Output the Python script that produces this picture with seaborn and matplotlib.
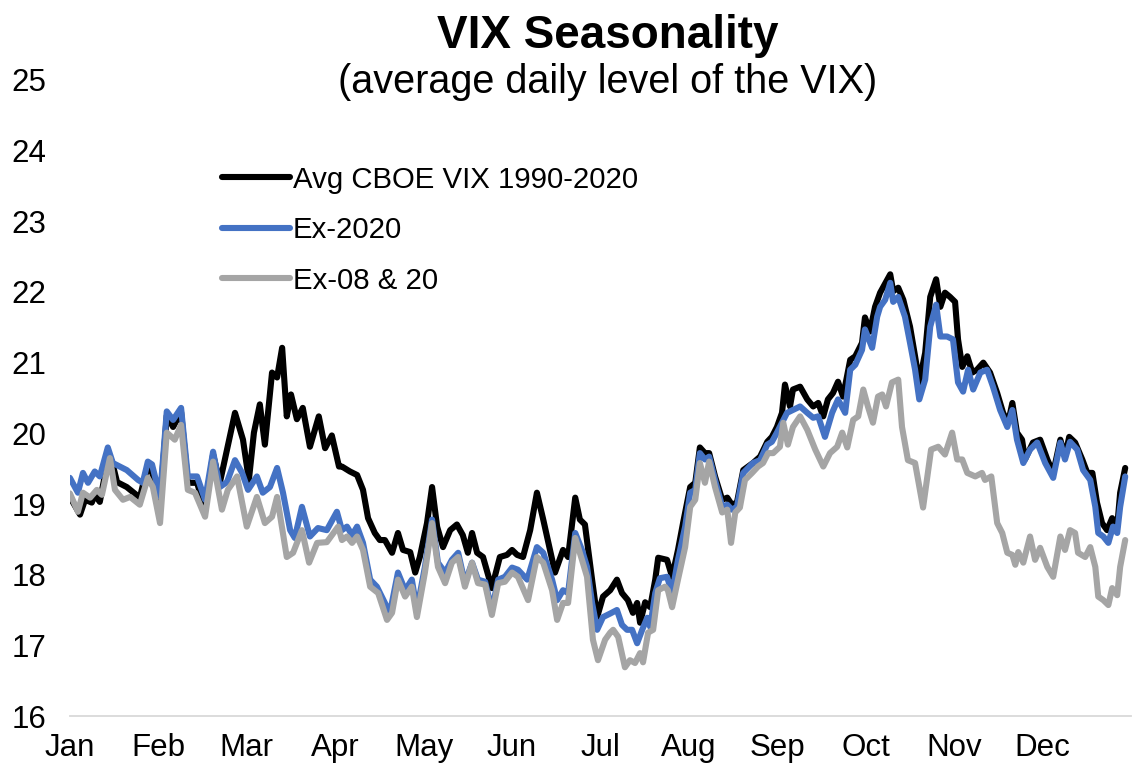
import matplotlib
matplotlib.use('Agg')
import pandas as pd
import seaborn as sns
import matplotlib.pyplot as plt

# VIX seasonality (trading day of year, level)

months = ['Jan', 'Feb', 'Mar', 'Apr', 'May', 'Jun',
          'Jul', 'Aug', 'Sep', 'Oct', 'Nov', 'Dec']

avg_days = [0, 2.4, 3.6, 5.2, 5.9, 7.1, 8.8, 10.0, 11.2, 13.5, 16.6, 18.3,
            19.5, 21.4, 23.0, 24.5, 26.4, 28.0, 30.2, 32.1, 34.0, 35.6, 39.2,
            41.1, 42.5, 43.7, 45.1, 46.3, 48.0, 49.2, 50.4, 51.5, 52.5, 53.9,
            55.3, 57.0, 59.1, 60.6, 62.2, 63.9,
            64.6, 66.5, 68.2, 69.6, 70.8, 72.4, 73.6, 74.8, 76.5, 77.9, 79.1,
            80.8, 82.0, 83.1, 84.8, 86.0, 87.2, 88.6, 90.3, 91.9, 93.3, 94.5,
            95.5, 96.7, 98.1, 100.2, 102.1, 103.8, 105.0, 106.2, 107.6, 109.3,
            110.9, 112.4, 114.0, 115.2, 117.1, 118.3, 120.0, 121.1, 122.3,
            124.0, 125.2, 126.6, 128.3,
            129.9, 131.1, 132.5, 133.7, 134.7, 135.4, 136.6, 137.8, 139.0,
            139.7, 141.8, 143.0, 144.4, 145.6, 147.3, 148.5, 149.6, 150.8,
            151.8, 153.2, 154.9, 156.1, 157.2, 158.4, 159.9, 162.2, 163.9,
            165.6, 166.7, 167.9, 169.1, 169.8, 171.0, 171.7, 173.4, 175.1,
            176.5, 177.7, 178.9, 180.0, 181.2, 182.4, 183.6, 185.3, 186.5,
            188.1, 188.8, 190.0, 191.2, 192.4,
            194.8, 195.5, 196.7, 197.9, 199.5, 200.7, 201.7, 203.1, 204.3,
            205.7, 206.7, 207.8, 209.0, 210.2, 210.9, 211.9, 213.1, 214.3,
            215.4, 216.9, 218.5, 220.2, 221.6, 222.8, 223.8, 224.9, 226.1,
            226.8, 228.7, 230.4, 232.1, 233.5, 235.2, 236.3, 237.3, 238.7,
            240.4, 241.6, 242.8, 243.9, 245.1, 246.3, 247.5, 248.7, 249.4,
            250.6]
avg_vix = [19.10, 18.85, 19.06, 19.02, 19.13, 19.03, 19.56, 19.60, 19.31,
           19.24, 19.09, 19.50, 19.45, 19.00, 20.25, 20.09, 20.30, 19.30,
           19.30, 18.92, 19.70, 19.30, 20.29, 19.91, 19.34, 20.01, 20.41,
           19.84, 20.86, 20.79, 21.21, 20.24, 20.55, 20.20, 20.36, 19.81,
           20.24, 19.79, 19.97, 19.53,
           19.53, 19.46, 19.41, 19.20, 18.80, 18.59, 18.49, 18.49, 18.31,
           18.59, 18.35, 18.32, 18.03, 18.25, 18.73, 19.24, 18.68, 18.39,
           18.63, 18.71, 18.56, 18.31, 18.59, 18.31, 18.25, 17.81, 18.25,
           18.28, 18.35, 18.28, 18.25, 18.63, 19.16, 18.78, 18.35, 18.03,
           18.35, 18.25, 19.09, 18.78, 18.71, 17.93, 17.40, 17.69, 17.78,
           17.93, 17.74, 17.64, 17.46, 17.60, 17.32, 17.61, 17.54, 17.93,
           18.24, 18.21, 17.97, 18.35, 18.73, 19.24, 19.30, 19.80, 19.72,
           19.72, 19.39, 19.06, 19.09, 18.99, 19.02, 19.48, 19.58, 19.67,
           19.88, 19.95, 20.09, 20.29, 20.69, 20.38, 20.62, 20.66, 20.48,
           20.38, 20.43, 20.24, 20.48, 20.57, 20.73, 20.52, 21.04, 21.09,
           21.28, 21.64, 21.44, 21.79, 21.99,
           22.25, 22.01, 22.06, 21.89, 21.51, 21.09, 20.72, 21.14, 21.93,
           22.18, 21.79, 21.99, 21.93, 21.86, 21.33, 20.94, 21.09, 20.86,
           20.90, 21.00, 20.86, 20.57, 20.29, 20.15, 20.43, 20.01, 19.91,
           19.63, 19.87, 19.91, 19.63, 19.44, 19.91, 19.67, 19.95, 19.87,
           19.63, 19.44, 19.44, 19.02, 18.73, 18.63, 18.80, 18.68, 19.16,
           19.51]

ex20_days = [0, 1.9, 3.1, 4.3, 5.9, 7.1, 9.0, 10.2, 13.5, 16.2, 17.3, 18.5,
             19.5, 21.4, 23.0, 24.5, 26.4, 28.0, 30.2, 32.1, 34.0, 35.6, 37.3,
             39.2, 40.9, 42.3, 44.4, 45.8, 47.5, 49.2, 50.6, 52.3, 53.4, 55.1,
             57.0, 58.9, 61.0, 63.4,
             64.6, 65.8, 67.0, 68.2, 69.6, 71.3, 72.9, 74.8, 76.0, 77.9, 79.6,
             81.2, 82.4, 84.3, 86.0, 87.4, 89.1, 90.7, 92.2, 93.8, 95.5, 96.9,
             98.6, 100.2, 101.7, 103.3, 105.0, 106.4, 108.6, 110.9, 112.4,
             114.5, 115.7, 117.1, 118.3, 120.0, 121.6, 122.8, 124.0, 125.2,
             126.6, 128.3,
             129.9, 131.1, 132.3, 133.5, 134.7, 135.9, 137.1, 137.8, 139.0,
             140.1, 141.8, 143.0, 144.4, 146.1, 147.3, 148.5, 149.6, 150.8,
             151.8, 153.2, 154.9, 156.1, 157.2, 158.4, 159.9, 162.2, 163.9,
             165.6, 166.7, 167.9, 169.1, 170.3, 171.7, 173.4, 175.1, 176.5,
             177.7, 179.3, 181.0, 182.4, 184.1, 185.3, 186.5, 188.1, 188.8,
             190.5, 191.7, 192.4,
             193.6, 194.8, 195.5, 196.7, 198.3, 199.5, 200.7, 201.7, 203.1,
             204.3, 205.7, 206.7, 208.3, 209.7, 210.9, 212.1, 213.3, 214.5,
             216.2, 217.8, 219.2, 220.9, 222.6, 223.8, 224.9, 226.4, 228.0,
             229.7, 231.6, 233.5, 235.2, 236.3, 237.5, 239.2, 240.6, 242.3,
             243.5, 244.2, 245.4, 246.6, 247.7, 248.7, 249.4, 250.6]
ex20_vix = [19.37, 19.16, 19.44, 19.30, 19.46, 19.39, 19.80, 19.58, 19.48,
            19.34, 19.30, 19.60, 19.56, 19.10, 20.31, 20.19, 20.36, 19.39,
            19.39, 19.06, 19.74, 19.24, 19.31, 19.62, 19.44, 19.20, 19.39,
            19.16, 19.24, 19.51, 19.16, 18.63, 18.52, 18.96, 18.54, 18.66,
            18.63, 18.89,
            18.63, 18.68, 18.56, 18.68, 18.45, 17.93, 17.83, 17.60, 17.46,
            18.03, 17.78, 17.93, 17.50, 18.11, 18.78, 18.17, 18.03, 18.21,
            18.31, 17.88, 18.17, 17.93, 17.90, 17.50, 17.93, 17.97, 18.10,
            18.07, 17.93, 18.39, 18.31, 17.93, 17.64, 17.78, 17.74, 18.59,
            18.35, 18.11, 17.60, 17.22, 17.40, 17.45,
            17.50, 17.29, 17.22, 17.22, 17.03, 17.22, 17.39, 17.26, 17.74,
            17.95, 17.97, 17.74, 18.21, 18.68, 19.16, 19.20, 19.72, 19.63,
            19.67, 19.34, 18.96, 18.99, 18.92, 18.96, 19.44, 19.58, 19.62,
            19.84, 19.88, 20.01, 20.15, 20.29, 20.33, 20.38, 20.29, 20.22,
            20.24, 19.95, 20.29, 20.48, 20.29, 20.90, 20.97, 21.18, 21.47,
            21.21, 21.65, 21.79,
            21.89, 22.13, 21.86, 21.93, 21.65, 21.28, 20.90, 20.48, 20.76,
            21.51, 21.82, 21.37, 21.37, 21.33, 20.72, 20.59, 20.90, 20.62,
            20.86, 20.90, 20.66, 20.33, 20.09, 20.33, 19.91, 19.58, 19.77,
            19.87, 19.58, 19.37, 19.87, 19.63, 19.88, 19.77, 19.48, 19.34,
            18.96, 18.59, 18.54, 18.45, 18.68, 18.59, 18.96, 19.39]

ex0820_days = [0, 1.9, 3.1, 4.8, 6.4, 7.6, 9.5, 10.7, 12.6, 14.3, 16.6, 18.5,
               19.7, 21.4, 23.0, 24.9, 26.4, 28.0, 29.7, 32.1, 34.0, 36.1,
               37.5, 39.7, 42.0, 44.4, 46.3, 48.0, 49.2, 51.5, 53.0, 55.1,
               56.8, 58.7, 61.0, 63.7,
               64.6, 65.8, 67.0, 68.2, 69.6, 71.3, 73.2, 75.3, 76.5, 77.9,
               79.6, 81.2, 82.4, 84.3, 86.0, 87.4, 89.1, 90.7, 92.2, 93.8,
               95.5, 96.9, 98.6, 100.2, 101.7, 103.3, 105.0, 106.4, 108.8,
               110.9, 112.4, 114.5, 115.7, 117.1, 118.3, 120.0, 121.6, 122.8,
               124.2, 125.4, 127.1, 128.3,
               129.0, 130.2, 131.8, 133.0, 134.2, 135.4, 136.1, 137.3, 138.5,
               139.7, 141.3, 142.0, 143.0, 144.4, 146.1, 147.3, 148.5, 149.6,
               150.8, 151.8, 153.2, 154.9, 156.1, 157.0, 158.0, 159.1, 160.3,
               162.0, 163.4, 164.6, 165.8, 167.0, 168.6, 169.4, 170.5, 171.7,
               173.4, 175.1, 177.0, 178.9, 180.5, 182.2, 183.4, 184.6, 186.0,
               187.2, 188.4, 189.5, 190.7, 191.9,
               192.9, 193.8, 195.2, 196.7, 197.6, 199.0, 200.7, 202.6, 204.5,
               206.2, 207.8, 209.5, 210.7, 211.9, 213.1, 215.0, 216.6, 217.3,
               218.8, 220.2, 221.4, 222.6, 223.8, 224.5, 225.2, 226.4, 228.0,
               229.2, 230.4, 232.1, 233.5, 235.2, 236.3, 237.5, 238.7, 239.4,
               241.1, 242.3, 243.5, 244.2, 245.4, 246.6, 247.5, 248.7, 249.4,
               250.6]
ex0820_vix = [19.15, 18.89, 19.16, 19.09, 19.20, 19.13, 19.65, 19.20, 19.06,
              19.10, 18.99, 19.37, 19.24, 18.73, 20.01, 19.91, 20.12, 19.20,
              19.16, 18.82, 19.60, 18.92, 19.20, 19.39, 18.68, 19.10, 18.73,
              18.82, 19.10, 18.25, 18.31, 18.63, 18.17, 18.45, 18.46, 18.68,
              18.49, 18.54, 18.45, 18.54, 18.35, 17.83, 17.74, 17.36, 17.46,
              17.93, 17.69, 17.83, 17.40, 18.03, 18.73, 18.11, 17.88, 18.17,
              18.25, 17.83, 18.17, 17.88, 17.86, 17.43, 17.88, 17.90, 18.03,
              17.97, 17.64, 18.25, 18.17, 17.78, 17.36, 17.60, 17.60, 18.52,
              18.21, 17.97, 17.08, 16.79, 17.08, 17.18,
              17.22, 17.12, 16.69, 16.79, 16.75, 16.89, 16.76, 17.18, 17.22,
              17.78, 17.83, 17.78, 17.54, 17.93, 18.39, 18.96, 19.06, 19.58,
              19.30, 19.60, 19.24, 18.88, 18.92, 18.45, 18.88, 18.95, 19.34,
              19.44, 19.53, 19.58, 19.72, 19.72, 19.81, 20.15, 19.84, 20.09,
              20.24, 20.05, 19.77, 19.53, 19.72, 19.81, 20.01, 19.80, 20.19,
              20.24, 20.62, 20.38, 20.15, 20.52,
              20.55, 20.38, 20.72, 20.76, 20.09, 19.62, 19.58, 18.95, 19.77,
              19.81, 19.70, 20.01, 19.63, 19.63, 19.44, 19.39, 19.44, 19.34,
              19.39, 18.73, 18.59, 18.31, 18.28, 18.14, 18.32, 18.17, 18.54,
              18.21, 18.38, 18.11, 17.97, 18.54, 18.35, 18.63, 18.59, 18.31,
              18.25, 18.39, 18.11, 17.69, 17.64, 17.57, 17.81, 17.71, 18.11,
              18.49]

series_names = ['Avg CBOE VIX 1990-2020', 'Ex-2020', 'Ex-08 & 20']
series_colors = ['#000000', '#4472C4', '#A5A5A5']

frames = []
for name, days, vals in zip(series_names,
                            [avg_days, ex20_days, ex0820_days],
                            [avg_vix, ex20_vix, ex0820_vix]):
    frames.append(pd.DataFrame({'day': days, 'vix': vals, 'series': name}))
df = pd.concat(frames, ignore_index=True)

sns.set_theme(style='white')
plt.rcParams['font.family'] = ['Liberation Sans', 'DejaVu Sans']
plt.rcParams['text.color'] = 'black'

fig = plt.figure(figsize=(11.46, 7.71), dpi=100)
ax = fig.add_axes([0.061, 0.0713, 0.926, 0.825])

sns.lineplot(data=df, x='day', y='vix', hue='series',
             hue_order=series_names, palette=series_colors,
             linewidth=4.4, estimator=None, sort=False, legend=False, ax=ax)

ax.set_xlim(0, 252)
ax.set_ylim(16, 25)
ax.set_xticks(range(0, 253, 21))
ax.set_xticklabels(months + [''])
ax.set_yticks(range(16, 26))
ax.set_xlabel('')
ax.set_ylabel('')

for side in ['top', 'right', 'left']:
    ax.spines[side].set_visible(False)
ax.spines['bottom'].set_color('#D9D9D9')
ax.spines['bottom'].set_linewidth(1.3)
ax.tick_params(axis='x', direction='out', length=6, width=1.3,
               color='#D9D9D9', labelsize=22.5, pad=6, labelcolor='black')
ax.tick_params(axis='y', length=0, labelsize=22.5, pad=17, labelcolor='black')

ax.legend(handles=ax.lines[:3], labels=series_names, loc='upper left',
          bbox_to_anchor=(0.194, 0.785), bbox_transform=fig.transFigure,
          frameon=False, fontsize=21.2, handlelength=2.3, handletextpad=0.1,
          labelspacing=0.76, borderpad=0, borderaxespad=0,
          labelcolor='black')

fig.text(0.53, 0.953, 'VIX Seasonality', ha='center', va='center',
         fontsize=33, fontweight='bold', color='black')
fig.text(0.53, 0.893, '(average daily level of the VIX)', ha='center',
         va='center', fontsize=28.5, color='black')

fig.savefig('out.png', dpi=100)
